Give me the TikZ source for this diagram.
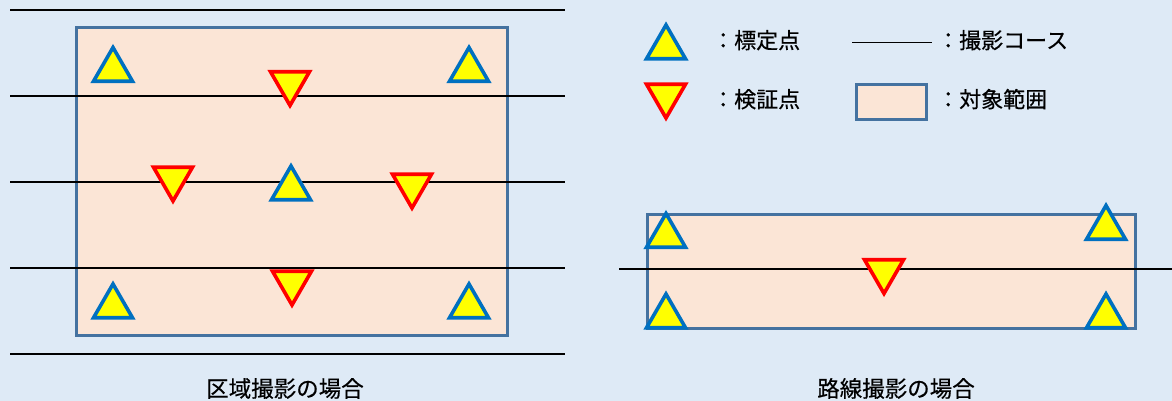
\documentclass[tikz,border=0pt]{standalone}
\usepackage{fontspec}
\newfontfamily\jp[FakeBold=0.4]{Noto Sans CJK JP}
\usetikzlibrary{shapes.geometric}
\definecolor{bgblue}{HTML}{DEEAF6}
\definecolor{peach}{HTML}{FBE5D6}
\definecolor{rimblue}{HTML}{4472A0}
\definecolor{triblue}{HTML}{0070C0}
\definecolor{trired}{HTML}{FF0000}
\definecolor{triyel}{HTML}{FFFF00}
\tikzset{
  area/.style={fill=peach, draw=rimblue, line width=2.6pt},
  course/.style={draw=black, line width=1.3pt},
  gcp/.style={regular polygon, regular polygon sides=3, minimum size=45pt, inner sep=0pt, outer sep=0pt,
    fill=triyel, draw=triblue, line width=3.6pt, line join=miter},
  chk/.style={gcp, shape border rotate=180, draw=trired},
  lbl/.style={font=\jp\fontsize{22pt}{26pt}\selectfont, inner sep=0pt, anchor=base west},
  captext/.style={font=\jp\fontsize{22.5pt}{26pt}\selectfont, inner sep=0pt, anchor=base},
}
\begin{document}
\begin{tikzpicture}[x=1pt, y=-1pt]
\fill[bgblue] (0,0) rectangle (1172,401);
\useasboundingbox (0,0) rectangle (1172,401);

% ---------- left panel: area photography ----------
\node[area, minimum width=431pt, minimum height=308pt, inner sep=0pt, anchor=north west] (areaL) at (75,26) {};
\foreach \i/\yy in {1/10, 2/96, 3/182, 4/268, 5/354} {
  \coordinate (cl\i a) at (10,\yy);
  \coordinate (cl\i b) at (565,\yy);
  \draw[course] (cl\i a) -- (cl\i b);
}
\node[gcp] (g1) at (113,70) {};
\node[gcp] (g2) at (469,70) {};
\node[gcp] (g3) at (291,188.5) {};
\node[gcp] (g4) at (113,306.5) {};
\node[gcp] (g5) at (469,306.5) {};
\node[chk] (k1) at (290,83) {};
\node[chk] (k2) at (173,178.5) {};
\node[chk] (k3) at (412,185.5) {};
\node[chk] (k4) at (292,282.5) {};
\node[captext] (capL) at (285,397) {区域撮影の場合};

% ---------- right panel: route photography ----------
\node[area, minimum width=488pt, minimum height=114pt, inner sep=0pt, anchor=north west] (areaR) at (646,213) {};
\coordinate (rla) at (619,269);
\coordinate (rlb) at (1172,269);
\draw[course] (rla) -- (rlb);
\node[gcp] (h1) at (666,236) {};
\node[gcp] (h2) at (666,316.5) {};
\node[gcp] (h3) at (1106,228) {};
\node[gcp] (h4) at (1106,316.5) {};
\node[chk] (m1) at (884,271) {};
\node[captext] (capR) at (896,397) {路線撮影の場合};

% ---------- legend ----------
\node[gcp] (lg1) at (666,47.5) {};
\node[lbl] (lt1) at (712,48.5) {：標定点};
\node[chk] (lg2) at (666,95.5) {};
\node[lbl] (lt2) at (712,107.5) {：検証点};
\coordinate (ll1) at (852,42.5);
\coordinate (ll2) at (932,42.5);
\draw[course] (ll1) -- (ll2);
\node[lbl] (lt3) at (937,48.5) {：撮影コース};
\node[area, minimum width=70pt, minimum height=35pt, inner sep=0pt, anchor=north west] (lgr) at (855,83) {};
\node[lbl] (lt4) at (937,107.5) {：対象範囲};
\end{tikzpicture}
\end{document}
